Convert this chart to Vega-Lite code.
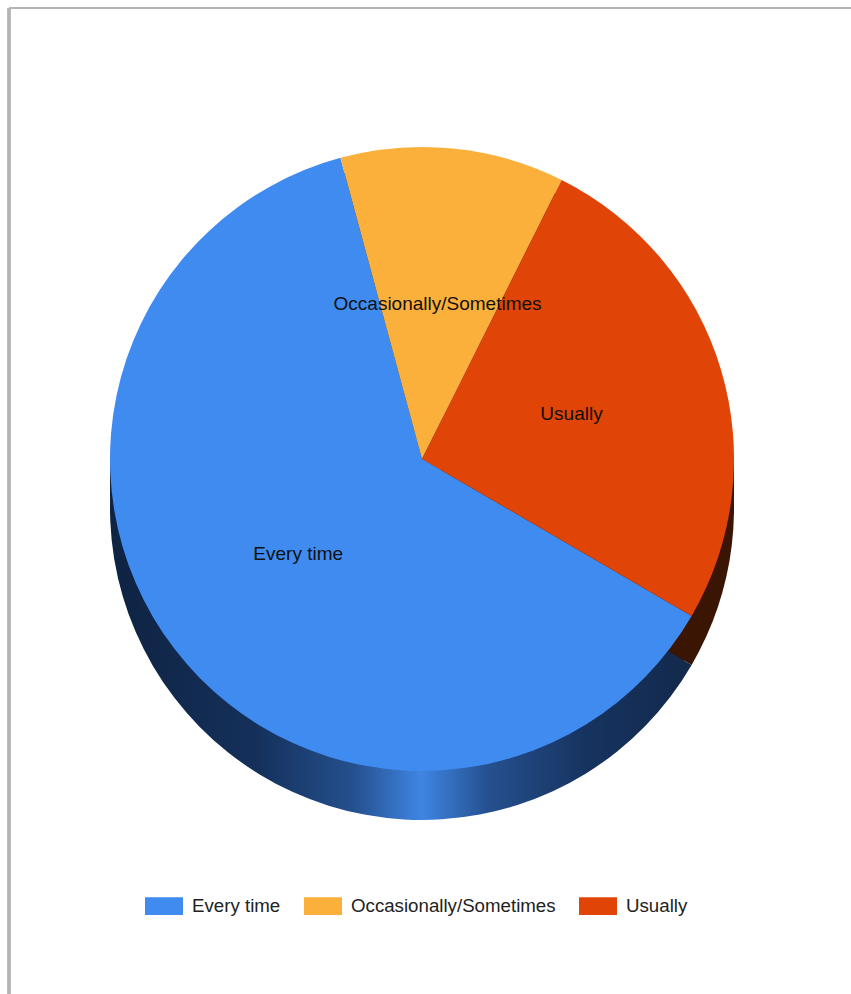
{"$schema":"https://vega.github.io/schema/vega-lite/v6.json","width":842,"height":986,"autosize":"none","padding":{"left":9,"top":8,"right":0,"bottom":0},"background":"white","config":{"view":{"stroke":null}},
"data":{"values":[{"answer":"Every time","share":62.4},{"answer":"Occasionally/Sometimes","share":11.6},{"answer":"Usually","share":26.0}]},
"layer":[
{"mark":{"type":"rule","stroke":"#b4b4b4","strokeWidth":3},"encoding":{"x":{"value":0}}},
{"mark":{"type":"rule","stroke":"#b4b4b4","strokeWidth":2},"encoding":{"y":{"value":0}}},
{"mark":{"type":"arc","radius":312,"yOffset":16},"encoding":{"x":{"value":413},"y":{"value":451},"theta":{"field":"share","type":"quantitative","stack":true,"scale":{"domain":[0,100],"range":[2.098,8.381]}},"order":{"field":"answer"},"fill":{"condition":{"test":"datum.answer==='Usually'","value":"#3a1503"},"value":"#0f2342"}}},
{"mark":{"type":"arc","radius":312,"yOffset":32},"encoding":{"x":{"value":413},"y":{"value":451},"theta":{"field":"share","type":"quantitative","stack":true,"scale":{"domain":[0,100],"range":[2.098,8.381]}},"order":{"field":"answer"},"fill":{"condition":{"test":"datum.answer==='Usually'","value":"#3a1503"},"value":"#0f2342"}}},
{"mark":{"type":"arc","radius":312,"yOffset":49},"encoding":{"x":{"value":413},"y":{"value":451},"theta":{"field":"share","type":"quantitative","stack":true,"scale":{"domain":[0,100],"range":[2.098,8.381]}},"order":{"field":"answer"},"fill":{"condition":{"test":"datum.answer==='Usually'","value":"#3a1503"},"value":{"gradient":"linear","x1":0,"y1":0,"x2":1,"y2":0,"stops":[{"offset":0,"color":"#0f2342"},{"offset":0.25,"color":"#14305a"},{"offset":0.42,"color":"#25508f"},{"offset":0.535,"color":"#3f85e3"},{"offset":0.65,"color":"#25508f"},{"offset":0.82,"color":"#16335f"},{"offset":1,"color":"#13294c"}]}}}},
{"mark":{"type":"arc","radius":312},"encoding":{"x":{"value":413},"y":{"value":451},"theta":{"field":"share","type":"quantitative","stack":true,"scale":{"domain":[0,100],"range":[2.098,8.381]}},"order":{"field":"answer"},"color":{"field":"answer","type":"nominal","scale":{"domain":["Every time","Occasionally/Sometimes","Usually"],"range":["#3f8bf0","#fbb03b","#e04406"]},"legend":{"title":null,"orient":"none","legendX":136,"legendY":879,"direction":"horizontal","columns":3,"padding":0,"symbolType":"M-1,-0.47H1V0.47H-1Z","symbolSize":1444,"symbolStrokeWidth":0,"symbolOpacity":1,"columnPadding":23,"labelOffset":9,"labelFont":"Liberation Sans","labelFontSize":18.7,"labelColor":"#222222","labelLimit":400}}}},
{"mark":{"type":"text","radius":156,"font":"Liberation Sans","fontSize":19,"color":"#111111"},"encoding":{"x":{"value":413},"y":{"value":451},"theta":{"field":"share","type":"quantitative","stack":true,"scale":{"domain":[0,100],"range":[2.098,8.381]}},"order":{"field":"answer"},"text":{"field":"answer"}}}
]}
